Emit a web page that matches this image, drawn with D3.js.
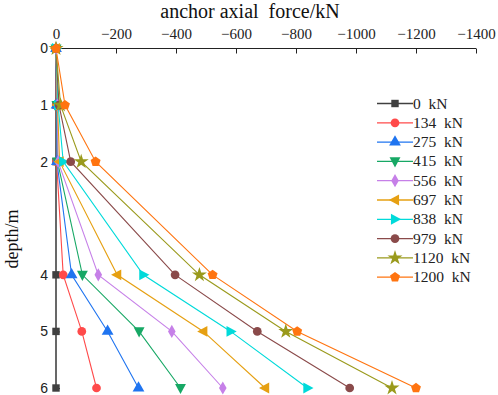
<!DOCTYPE html>
<html><head><meta charset="utf-8">
<script src="https://cdn.jsdelivr.net/npm/d3@7"></script>
<style>body{margin:0;background:#fff}svg{display:block}</style>
</head><body>
<svg id="c" width="498" height="395"></svg>
<script>
const depths = [0, 1, 2, 4, 5, 6];
const loads = ["0  kN","134  kN","275  kN","415  kN","556  kN","697  kN","838  kN","979  kN","1120  kN","1200  kN"];
const s0    = [0, 0, 0, 0, 0, 0];
const s134  = [0, -1, -2, -24, -86, -135];
const s275  = [0, -2, -3, -52, -172, -275];
const s415  = [0, -3, -5, -88, -277, -415];
const s556  = [0, -4, -7, -141, -386, -556];
const s697  = [0, -5, -12, -204, -491, -697];
const s838  = [0, -7, -24, -291, -582, -838];
const s979  = [0, -10, -49, -397, -671, -979];
const s1120 = [0, -15, -84, -478, -766, -1120];
const s1200 = [0, -30, -132, -522, -804, -1200];
const series = [s0,s134,s275,s415,s556,s697,s838,s979,s1120,s1200];
const xTicks = [0,-200,-400,-600,-800,-1000,-1200,-1400];
const yTicks = [0,1,2,4,5,6];
const colors = ["#404040","#ff4a4a","#1f74f0","#17a865","#c680e8","#e6a012","#00dada","#8a4a4a","#9a9a1c","#ff7410"];

const pentagon = {draw(ctx,size){const r=Math.sqrt(size/2.4);for(let i=0;i<5;i++){const a=-Math.PI/2+i*2*Math.PI/5;const x=r*Math.cos(a),y=r*Math.sin(a);i?ctx.lineTo(x,y):ctx.moveTo(x,y);}ctx.closePath();}};
const triLeft = {draw(ctx,size){const r=Math.sqrt(size/1.3);ctx.moveTo(-r*0.9,0);ctx.lineTo(r*0.6,-r*0.8);ctx.lineTo(r*0.6,r*0.8);ctx.closePath();}};
const triRight = {draw(ctx,size){const r=Math.sqrt(size/1.3);ctx.moveTo(r*0.9,0);ctx.lineTo(-r*0.6,-r*0.8);ctx.lineTo(-r*0.6,r*0.8);ctx.closePath();}};
const triDown = {draw(ctx,size){const r=Math.sqrt(size/1.3);ctx.moveTo(0,r*0.9);ctx.lineTo(-r*0.8,-r*0.6);ctx.lineTo(r*0.8,-r*0.6);ctx.closePath();}};
const symbols = [d3.symbolSquare,d3.symbolCircle,d3.symbolTriangle,triDown,d3.symbolDiamond,triLeft,triRight,d3.symbolCircle,d3.symbolStar,pentagon];
const sizes = [55,60,60,60,50,60,60,60,70,65];

const svg = d3.select("#c");
const x = d3.scaleLinear().domain([0,-1400]).range([56,476]);
const y = d3.scaleLinear().domain([0,6]).range([48.5,388]);
const font = "'Liberation Serif', 'DejaVu Serif', serif";

const gx = svg.append("g").attr("transform","translate(0,48.5)")
  .call(d3.axisTop(x).tickValues(xTicks).tickSize(-5).tickPadding(10).tickFormat(d=>d===0?"0":"\u2212"+Math.abs(d)));
gx.select(".domain").attr("stroke","#222").attr("d","M56,0H476");
gx.selectAll(".tick line").attr("stroke","#222");
gx.selectAll("text").attr("font-family",font).attr("font-size",15).attr("fill","#222").attr("dy","0");

const gy = svg.append("g").attr("transform","translate(56,0)")
  .call(d3.axisLeft(y).tickValues(yTicks).tickSize(-4).tickPadding(8).tickFormat(d3.format("d")));
gy.select(".domain").attr("stroke","#333").attr("d","M0,48.5V388");
gy.selectAll(".tick line").attr("stroke","#333");
gy.selectAll("text").attr("font-family","'Liberation Sans', Arial, sans-serif").attr("font-size",14).attr("fill","#222");

svg.append("text").attr("x",250).attr("y",18).attr("text-anchor","middle")
  .attr("font-family",font).attr("font-size",20).attr("fill","#111").attr("xml:space","preserve").style("white-space","pre").text("anchor axial  force/kN");
svg.append("text").attr("transform","translate(18,239) rotate(-90)").attr("text-anchor","middle")
  .attr("font-family",font).attr("font-size",18).attr("fill","#111").text("depth/m");

const line = d3.line().x(d=>x(d[0])).y(d=>y(d[1]));
series.forEach((s,i)=>{
  const pts = s.map((v,j)=>[v,depths[j]]);
  svg.append("path").attr("d",line(pts)).attr("fill","none").attr("stroke",colors[i]).attr("stroke-width",1.1);
});
series.forEach((s,i)=>{
  const sym = d3.symbol().type(symbols[i]).size(sizes[i]);
  svg.append("g").selectAll("path").data(s.map((v,j)=>[v,depths[j]])).join("path")
    .attr("transform",d=>`translate(${x(d[0])},${y(d[1])})`).attr("d",sym).attr("fill",colors[i]);
});

const lg = svg.append("g");
loads.forEach((t,i)=>{
  const yy = 103.5 + i*19.3;
  lg.append("line").attr("x1",377).attr("x2",413).attr("y1",yy).attr("y2",yy).attr("stroke",colors[i]).attr("stroke-width",1.3);
  lg.append("path").attr("transform",`translate(395,${yy})`).attr("d",d3.symbol().type(symbols[i]).size(sizes[i])()).attr("fill",colors[i]);
  lg.append("text").attr("x",413).attr("y",yy+5).attr("font-family",font).attr("font-size",15.5).attr("fill","#222")
    .attr("xml:space","preserve").style("white-space","pre").text(t);
});
</script>
</body></html>
